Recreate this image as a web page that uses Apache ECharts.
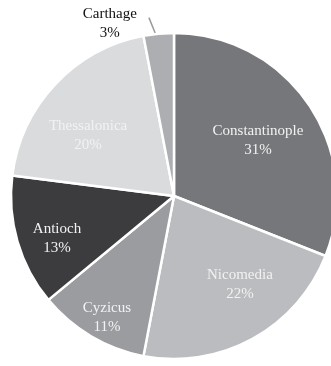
<!DOCTYPE html>
<html>
<head>
<meta charset="utf-8">
<style>
  html, body { margin: 0; padding: 0; background: #ffffff; }
  #chart { width: 331px; height: 366px; }
</style>
<script src="https://cdn.jsdelivr.net/npm/echarts@6/dist/echarts.min.js"></script>
</head>
<body>
<div id="chart"></div>
<script>
// Share of output by mint, clockwise from twelve o'clock
const mints = ['Constantinople', 'Nicomedia', 'Cyzicus', 'Antioch', 'Thessalonica', 'Carthage'];
const shares = [31, 22, 11, 13, 20, 3];
const shades = ['#76777a', '#bbbcbf', '#9b9c9f', '#3c3c3e', '#dadbdd', '#adaeb1'];
// Slices too thin for an inside label get theirs outside with a leader line
const outsideLabel = ['Carthage'];
// Label placement: distance from the centre (fraction of radius) and
// rotation off the slice bisector (degrees, clockwise positive)
const labelDepth = [0.616, 0.675, 0.854, 0.765, 0.643, 1.13];
const labelTurn = [1, -8, -1.8, -4, -8.3, -15];

const chart = echarts.init(document.getElementById('chart'), null, { renderer: 'canvas' });

const R = 163;
const center = [174, 196];
const serif = '"Liberation Serif", "DejaVu Serif", serif';

// Bisector of each slice, degrees clockwise from twelve o'clock
const total = shares.reduce((a, b) => a + b, 0);
const bisector = [];
shares.reduce((acc, v) => { bisector.push((acc + v / 2) / total * 360); return acc + v; }, 0);

function polar(deg, r) {
  const a = deg * Math.PI / 180;
  return [center[0] + r * Math.sin(a), center[1] - r * Math.cos(a)];
}

const slices = mints.map((name, i) => {
  const outside = outsideLabel.includes(name);
  return {
    name,
    value: shares[i],
    itemStyle: { color: shades[i] },
    label: outside ? { position: 'outside', color: '#111111' } : {},
    labelLine: { show: outside }
  };
});

chart.setOption({
  animation: false,
  series: [{
    type: 'pie',
    radius: [0, R],
    center,
    startAngle: 90,
    clockwise: true,
    avoidLabelOverlap: false,
    itemStyle: { borderColor: '#ffffff', borderWidth: 2.5 },
    label: {
      position: 'inside',
      formatter: '{b}\n{c}%',
      fontFamily: serif,
      fontSize: 15,
      lineHeight: 19,
      color: '#f2f2f2'
    },
    labelLine: { length: 18, length2: 0, lineStyle: { color: '#9a9a9a', width: 1.5 } },
    labelLayout(p) {
      const i = p.dataIndex;
      const [x, y] = polar(bisector[i] + labelTurn[i], labelDepth[i] * R);
      const out = { x, y, align: 'center', verticalAlign: 'middle' };
      if (outsideLabel.includes(mints[i])) {
        out.labelLinePoints = [
          polar(bisector[i] - 1.2, R + 1),
          polar(bisector[i] - 2.6, R * 1.105)
        ];
      }
      return out;
    },
    emphasis: { disabled: true },
    data: slices
  }]
});
</script>
</body>
</html>
